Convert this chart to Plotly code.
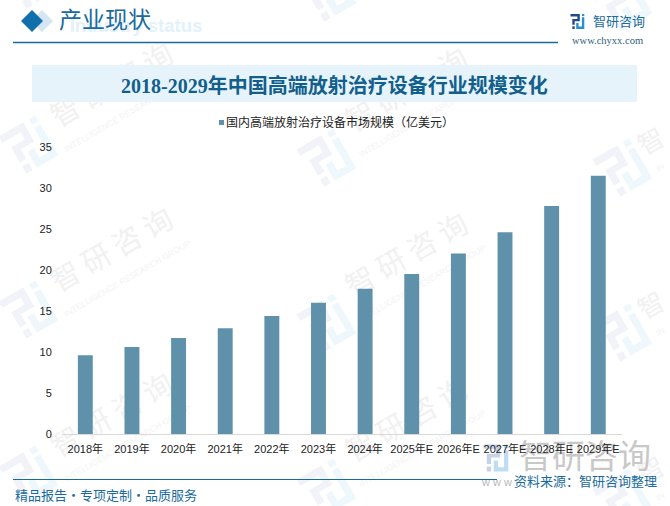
import math
import plotly.graph_objects as go

W, H = 670, 506

years = ["2018年", "2019年", "2020年", "2021年", "2022年", "2023年", "2024年",
         "2025年E", "2026年E", "2027年E", "2028年E", "2029年E"]
market_size = [9.6, 10.6, 11.7, 12.9, 14.4, 16.0, 17.7, 19.5, 22.0, 24.6, 27.8, 31.5]
y_ticks = [0, 5, 10, 15, 20, 25, 30, 35]
series_name = "国内高端放射治疗设备市场规模（亿美元）"
chart_title = "2018-2029年中国高端放射治疗设备行业规模变化"

BLUE = "#1a6a9c"
BAR = "#5f92aa"
CJK = "Noto Sans CJK SC"
SERIF = "Liberation Serif, " + CJK
SANS = "Liberation Sans, " + CJK


def px(x):
    return x / W


def py(y):
    return 1 - y / H


def logo_path(points, cx, cy, size, angle):
    # local 0..1 square -> page pixels -> paper coords
    a = math.radians(angle)
    out = []
    for u, v in points:
        dx, dy = (u - 0.5) * size, (v - 0.5) * size
        x = cx + dx * math.cos(a) - dy * math.sin(a)
        y = cy + dx * math.sin(a) + dy * math.cos(a)
        out.append(f"{px(x):.5f},{py(y):.5f}")
    return "M" + "L".join(out) + "Z"


LOGO_DARK = [
    [(0, 0), (0.62, 0), (0.62, 0.48), (0.28, 0.48), (0.28, 0.72), (0.12, 0.72),
     (0.12, 0.34), (0.46, 0.34), (0.46, 0.16), (0, 0.16)],
    [(0.12, 0.82), (0.28, 0.82), (0.28, 1), (0.12, 1)],
]
LOGO_LIGHT = [
    [(0.76, 0), (0.92, 0), (0.92, 0.14), (0.76, 0.14)],
    [(0.76, 0.22), (0.92, 0.22), (0.92, 1), (0.38, 1), (0.38, 0.6), (0.54, 0.6),
     (0.54, 0.84), (0.76, 0.84)],
]


def logo(cx, cy, size, angle, dark, light):
    res = []
    for pts, col in [(p, dark) for p in LOGO_DARK] + [(p, light) for p in LOGO_LIGHT]:
        res.append(dict(type="path", path=logo_path(pts, cx, cy, size, angle),
                        xref="paper", yref="paper", fillcolor=col, line_width=0, layer="below"))
    return res


def label_box(cx, cy, text, size, color, angle=0, family=CJK):
    # text kept in a shape label so it stays underneath the bars
    return dict(type="rect", xref="paper", yref="paper",
                x0=px(cx - 5), x1=px(cx + 5), y0=py(cy + 5), y1=py(cy - 5),
                fillcolor="rgba(0,0,0,0)", line_width=0, layer="below",
                label=dict(text=text, textposition="middle center", textangle=angle,
                           font=dict(size=size, color=color, family=family)))


shapes = []

# watermark grid
for cx, cy in [(30, -20), (30, 145), (30, 310), (30, 475),
               (328, -7), (328, 158), (328, 323), (328, 488),
               (624, 3), (624, 168), (624, 333), (624, 498)]:
    shapes += logo(cx, cy, 46, -30, "#f1f3f8", "#eef7fb")
for cx, cy in [(113, 87), (113, 252), (113, 417),
               (408, 92), (408, 257), (408, 422)]:
    shapes.append(label_box(cx, cy, "智 研 咨 询", 29, "#f1f1f1", -30))
    shapes.append(label_box(cx + 14, cy + 26, "INTELLIGENCE RESEARCH GROUP", 8.5, "#f3f3f3", -30, "Liberation Sans"))
# right edge only shows the first characters of the stamp
for cy in [143, 307, 472]:
    shapes.append(label_box(652, cy, "智", 26, "#f1f1f1", -30))
    shapes.append(label_box(660, cy + 24, "IN", 8.5, "#f3f3f3", -30, "Liberation Sans"))

# header
shapes.append(label_box(136, 24, "<b>Industry status</b>", 18.5, "#e3f1fb", 0, "Liberation Sans"))
shapes.append(dict(type="path", xref="paper", yref="paper", fillcolor="#d5e6f2", line_width=0,
                   path=f"M{px(31)},{py(21)}L{px(42)},{py(10)}L{px(53)},{py(21)}L{px(42)},{py(32)}Z"))
shapes.append(dict(type="path", xref="paper", yref="paper", fillcolor="#116fab", line_width=0,
                   path=f"M{px(21)},{py(21)}L{px(32)},{py(10)}L{px(43)},{py(21)}L{px(32)},{py(32)}Z"))
shapes.append(dict(type="line", xref="paper", yref="paper", x0=px(13), x1=px(558), y0=py(42.5), y1=py(42.5),
                   line=dict(color=BLUE, width=1.5)))
shapes += logo(578, 21.5, 15, 0, "#1f4a8f", "#2a8fd0")

# title band
shapes.append(dict(type="rect", xref="paper", yref="paper", x0=px(32), x1=px(637), y0=py(102), y1=py(65),
                   fillcolor="#e6f3fb", line_width=0, layer="below"))

# legend swatch
shapes.append(dict(type="rect", xref="paper", yref="paper", x0=px(219), x1=px(224), y0=py(125), y1=py(120),
                   fillcolor=BAR, line_width=0))

# bottom stamp and footer line
shapes += logo(497, 458, 27, 0, "#c6d3e6", "#bfddf2")
shapes.append(label_box(585, 459, "智研咨询", 33, "#c8c8c8"))
shapes.append(label_box(497, 481, "w w w", 11, "#b9b9b9", 0, "Liberation Sans"))
shapes.append(dict(type="line", xref="paper", yref="paper", x0=px(13), x1=px(497), y0=py(479.5), y1=py(479.5),
                   line=dict(color=BLUE, width=1.2)))


def note(x, y, text, size, color, family=CJK, anchor="center"):
    return dict(x=px(x), y=py(y), xref="paper", yref="paper", text=text, showarrow=False,
                xanchor=anchor, yanchor="middle", font=dict(size=size, color=color, family=family))


annotations = [
    note(57, 21, "产业现状", 23, BLUE, SERIF, "left"),
    note(591, 21, "智研咨询", 13, BLUE, CJK, "left"),
    note(607.5, 41, "www.chyxx.com", 10.5, "#2f5d7c", SERIF),
    note(334.5, 85, "<b>" + chart_title + "</b>", 20, "#135f8c", SERIF),
    note(224, 122, series_name, 12, "#222222", CJK, "left"),
    note(13, 494, "精品报告·专项定制·品质服务", 13, BLUE, CJK, "left"),
    note(512, 480, "资料来源：智研咨询整理", 13, BLUE, CJK, "left"),
]

fig = go.Figure()
fig.add_trace(go.Bar(x=years, y=market_size, name=series_name, marker_color=BAR, marker_line_width=0))

fig.update_layout(
    width=W, height=H, margin=dict(l=0, r=0, t=0, b=0),
    paper_bgcolor="white", plot_bgcolor="rgba(0,0,0,0)",
    showlegend=False, bargap=0.68,
    shapes=shapes, annotations=annotations,
)
fig.update_xaxes(domain=[px(62), px(621.6)], type="category", tickmode="array", tickvals=years, ticktext=years,
                 tickangle=0, automargin=False, showgrid=False, showline=True, linecolor="#d9d9d9", linewidth=1,
                 ticks="outside", ticklen=5, tickcolor="rgba(0,0,0,0)",
                 tickfont=dict(size=11, color="#222222", family=SANS))
fig.update_yaxes(domain=[py(434), py(147)], range=[0, 35], tickmode="array", tickvals=y_ticks,
                 automargin=False, showgrid=False, zeroline=False, showline=False,
                 ticks="outside", ticklen=7, tickcolor="rgba(0,0,0,0)",
                 tickfont=dict(size=11, color="#222222", family="Liberation Sans"))

# page has a default body margin that would push the chart off the window
fig.write_html("out.html", config=dict(displayModeBar=False),
               post_script="document.body.style.margin='0';document.body.style.overflow='hidden';")
